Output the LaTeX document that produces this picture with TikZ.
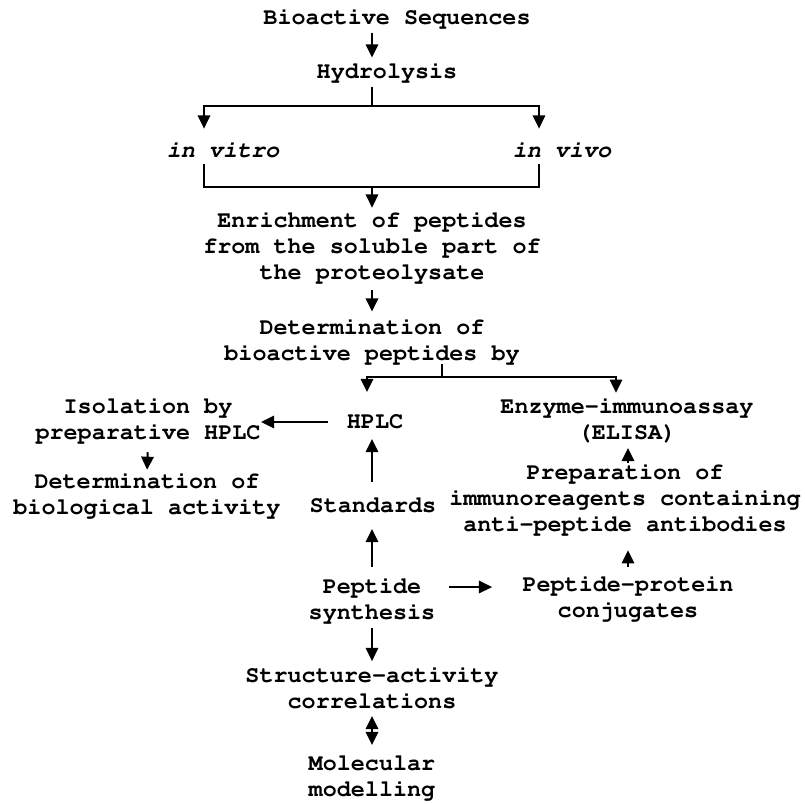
\documentclass[tikz,border=0pt]{standalone}
\usepackage[T1]{fontenc}
\usetikzlibrary{arrows.meta}
\tikzset{
  stage/.style={inner sep=0pt, align=center,
    font=\fontfamily{pcr}\fontseries{b}\fontsize{10}{11.1}\selectfont},
  flow/.style={line width=0.85pt, -{Triangle[length=5.6pt,width=5.3pt]}},
  twoway/.style={line width=0.85pt, {Triangle[length=5.6pt,width=5.3pt]}-{Triangle[length=5.6pt,width=5.3pt]}},
  bar/.style={line width=0.85pt},
}
\begin{document}
\begin{tikzpicture}[x=0.015cm, y=-0.015cm]
                \useasboundingbox (0,0) rectangle (805,803);

                % Placing the stages
                \node [stage] (bio) at (397,18) {Bioactive Sequences};
                \node [stage] (hyd) at (387,72) {Hydrolysis};
                \node [stage] (vitro) at (223,150) {\itshape in vitro};
                \node [stage] (vivo) at (562,150) {\itshape in vivo};
                \node [stage] (enr) at (372,247) {Enrichment of peptides\\from the soluble part of\\the proteolysate};
                \node [stage] (det) at (372,341) {Determination of\\bioactive peptides by};
                \node [stage] (hplc) at (375,422) {HPLC};
                \node [stage] (eli) at (627,420) {Enzyme-immunoassay\\(ELISA)};
                \node [stage] (iso) at (148,420) {Isolation by\\preparative HPLC};
                \node [stage] (act) at (147,495) {Determination of\\biological activity};
                \node [stage] (std) at (373,505) {Standards};
                \node [stage] (prep) at (625,499) {Preparation of\\immunoreagents containing\\anti-peptide antibodies};
                \node [stage] (pep) at (372,600) {Peptide\\synthesis};
                \node [stage] (conj) at (628,598) {Peptide-protein\\conjugates};
                \node [stage] (sar) at (372,688) {Structure-activity\\correlations};
                \node [stage] (mol) at (372,778) {Molecular\\modelling};

                % Bends of the connectors
                \coordinate (spine) at (372,0);
                \coordinate (split) at (372,106);
                \coordinate (lftarm) at (204,0);
                \coordinate (rgtarm) at (539,0);
                \coordinate (join) at (372,187);
                \coordinate (fork) at (442,377);
                \coordinate (hplcarm) at (367,0);
                \coordinate (eliarm) at (616,0);
                \coordinate (conjarm) at (628,0);
                \coordinate (synrow) at (0,587);

                % Drawing the upper chain
                \draw [flow, shorten <=2pt, shorten >=2pt] (bio.south -| spine) -- (hyd.north -| spine);%
                \draw [bar, shorten <=2pt] (hyd.south -| spine) -- (split);%
                \draw [flow, shorten >=5.5pt] (split) -| (vitro.north -| lftarm);%
                \draw [flow, shorten >=5.5pt] (split) -| (vivo.north -| rgtarm);%
                \draw [bar, shorten <=2.5pt, shorten >=2.5pt] (vitro.south -| lftarm) |- (join) -| (vivo.south -| rgtarm);%
                \draw [flow, shorten >=1.5pt] (join) -- (enr.north -| spine);%
                \draw [flow, shorten <=3.2pt, shorten >=2.8pt] (enr.south -| spine) -- (det.north -| spine);%

                % Drawing the fork to HPLC and ELISA
                \draw [bar] (det.south -| fork) -- (fork);%
                \draw [flow, shorten >=9.5pt] (fork) -| (hplc.north -| hplcarm);%
                \draw [flow, shorten >=2pt] (fork) -| (eli.north -| eliarm);%

                % Drawing the left branch
                \draw [flow, shorten <=7.7pt] (hplc.west) -- (iso.east |- hplc.west);%
                \draw [flow, shorten <=4pt, shorten >=1pt] (iso.south) -- (act.north);%

                % Drawing the synthesis chain
                \draw [flow, shorten <=6.4pt, shorten >=4pt] (std.north -| spine) -- (hplc.south -| spine);%
                \draw [flow, shorten <=4.5pt, shorten >=6.8pt] (pep.north -| spine) -- (std.south -| spine);%
                \draw [flow, shorten <=5.5pt, shorten >=12.8pt] (pep.east |- synrow) -- (conj.west |- synrow);%
                \draw [flow, shorten <=3.6pt, shorten >=6.6pt] (conj.north -| conjarm) -- (prep.south -| conjarm);%
                \draw [flow, shorten >=2.3pt] (prep.north -| conjarm) -- (eli.south -| conjarm);%
                \draw [flow, shorten <=2pt, shorten >=2.3pt] (pep.south -| spine) -- (sar.north -| spine);%
                \draw [twoway, shorten <=2.8pt, shorten >=4.5pt] (sar.south -| spine) -- (mol.north -| spine);%
\end{tikzpicture}
\end{document}
